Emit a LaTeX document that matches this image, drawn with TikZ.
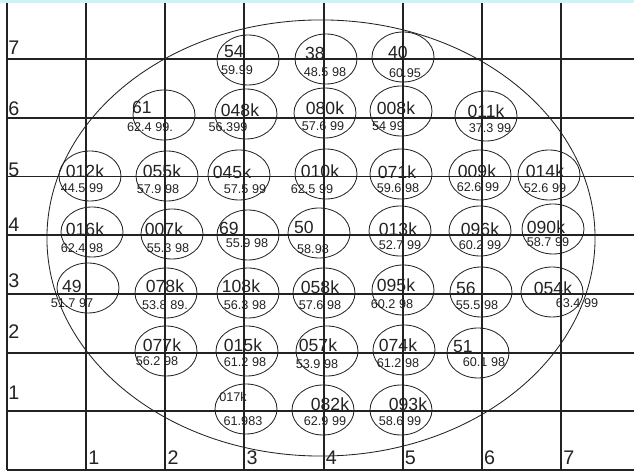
\documentclass[tikz,border=0pt]{standalone}
\usepackage{fontspec}
\setmainfont{Liberation Sans}
\usetikzlibrary{shapes.geometric}
\definecolor{ink}{HTML}{222222}
\definecolor{topband}{HTML}{CDF3F7}
\tikzset{
    gridline/.style={
        draw=ink, line width=1.4pt
    },
    outline/.style={
        draw=ink, line width=0.6pt
    },
    die/.style={
        ellipse, draw=ink, line width=0.6pt, minimum width=1.55cm,
        minimum height=1.25cm, inner sep=0pt
    },
    code/.style={
        inner sep=0pt, text=ink, font=\fontsize{12.5}{12.5}\selectfont
    },
    yield/.style={
        inner sep=0pt, text=ink, font=\fontsize{9}{9}\selectfont
    },
    axislabel/.style={
        inner sep=0pt, anchor=west, text=ink, font=\fontsize{14}{14}\selectfont
    }
}

\begin{document}
\begin{tikzpicture}[x=0.025cm, y=-0.025cm]

    \useasboundingbox (0,0) rectangle (634,471);
    \fill[topband] (0,0) rectangle (634,3);

    % wafer outline
    \draw[outline] (321,238) ellipse [x radius=6.85cm, y radius=5.45cm];

    % grid
    \foreach \i in {0,...,7}
        \draw[gridline] ({7+79.14*\i},3) -- ({7+79.14*\i},470);
    \foreach \j in {1,...,7}
        \draw[gridline] (7,{470-58.7*\j}) -- (634,{470-58.7*\j});
    \draw[gridline] (7,470) -- (634,470);

    % axis numbers
    \foreach \j/\ry in {7/48, 6/109, 5/170, 4/225, 3/281, 2/332, 1/393}
        \node[axislabel] (row\j) at (8,\ry) {\j};
    \foreach \i in {1,...,7}
        \node[axislabel] (col\i) at ({9+79.14*\i},458) {\i};

    % dies: centre / code / yield
    \foreach \cx/\cy/\lab/\lx/\ly/\val/\vx/\vy [count=\n] in {
        248/60/54/234/52/59.99/237/70,
        326/59/38/315/53/48.5 98/325/72,
        403/57/40/398/52/60.95/405/73,
        164/115/61/142/107/62.4 99./150/127,
        246/114/048k/240/110/56.399/228/127,
        325/113/080k/325/108/57.6 99/323/126,
        401/111/008k/396/108/54 99/388/126,
        486/116/011k/486/111/37.3 99/490/128,
        90/176/012k/85/171/44.5 99/82/188,
        167/176/055k/162/171/57.9 98/158/189,
        239/175/045k/232/172/57.5 99/245/189,
        326/174/010k/320/171/62.5 99/312/189,
        401/174/071k/397/172/59.6 98/398/188,
        480/175/009k/477/171/62.6 99/478/187,
        549/175/014k/545/171/52.6 99/545/188,
        92/232/016k/85/229/62.4 98/82/248,
        172/234/007k/164/229/55.3 98/168/248,
        248/235/69/229/228/55.9 98/247/243,
        319/233/50/304/227/58.98/313/249,
        400/231/013k/398/229/52.7 99/400/245,
        480/231/096k/480/229/60.2 99/480/245,
        553/229/090k/546/227/58.7 99/548/242,
        88/288/49/72/286/51.7 97/72/303,
        166/293/078k/165/286/53.8 89./165/305,
        248/293/108k/241/286/56.3 98/245/305,
        324/293/058k/320/287/57.6 98/320/305,
        403/290/095k/396/285/60.2 98/392/304,
        481/292/56/466/288/55.5 98/477/305,
        552/292/054k/553/288/63.4 99/577/303,
        166/351/077k/162/345/56.2 98/157/361,
        247/351/015k/243/345/61.2 98/245/362,
        327/351/057k/318/345/53.9 98/317/364,
        404/350/074k/398/345/61.2 98/398/363,
        478/353/51/463/347/60.1 98/484/362,
        246/409/{\fontsize{9}{9}\selectfont 017k}/233/397/61.983/243/421,
        323/410/082k/330/404/62.9 99/325/421,
        401/410/093k/408/404/58.6 99/400/421}
    {
        \node[die]  (die\n)   at (\cx,\cy) {};
        \node[code] (code\n)  at (\lx,\ly) {\lab};
        \node[yield] (yield\n) at (\vx,\vy) {\val};
    }

\end{tikzpicture}
\end{document}
